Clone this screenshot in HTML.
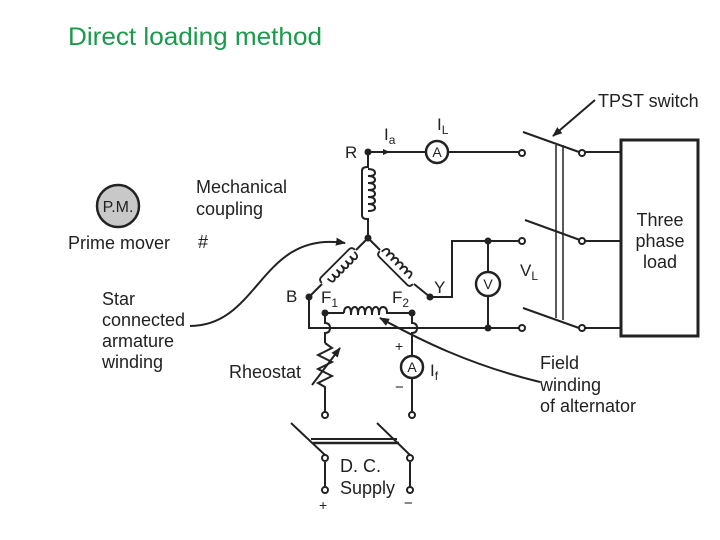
<!DOCTYPE html>
<html><head><meta charset="utf-8"><style>
html,body{margin:0;padding:0;background:#fff}
svg{display:block}
text{font-family:"Liberation Sans",sans-serif;fill:#222}
</style></head><body>
<svg width="720" height="540" viewBox="0 0 720 540" xmlns="http://www.w3.org/2000/svg">
<defs>
<g id="coilv"><path d="M0,-24 q7,0 7,4 q0,3 -7,3 q7,0 7,4 q0,3 -7,3 q7,0 7,4 q0,3 -7,3 q7,0 7,4 q0,3 -7,3 q7,0 7,4 q0,3 -7,3 q7,0 7,4 q0,3 -7,3 M-1,-26 q-5,0 -5,4 v44 q0,4 5,4" fill="none" stroke="#222" stroke-width="2"/></g>
<marker id="ah2" markerWidth="10" markerHeight="8" refX="9" refY="4" orient="auto" markerUnits="userSpaceOnUse"><path d="M0,0 L10,4 L0,8 z" fill="#222"/></marker>
</defs>
<text x="68" y="45" style="font-size:25px;fill:#1a9a4a" textLength="254" lengthAdjust="spacingAndGlyphs">Direct loading method</text>
<g stroke="#222" stroke-width="2" fill="none">
<line x1="368" y1="152" x2="426" y2="152"/>
<line x1="448" y1="152" x2="519" y2="152"/>
<line x1="368" y1="152" x2="368" y2="168"/>
<line x1="368" y1="218" x2="368" y2="238"/>
<line x1="368" y1="238" x2="356" y2="250"/>
<line x1="322" y1="284" x2="309" y2="297"/>
<line x1="368" y1="238" x2="380" y2="250"/>
<line x1="414" y1="284" x2="430" y2="297"/>
<polyline points="430,297 452,297 452,241 519,241"/>
<line x1="488" y1="241" x2="488" y2="272"/>
<line x1="488" y1="296" x2="488" y2="328"/>
<polyline points="309,297 309,328 519,328"/>
<polyline points="325,313 344,313"/>
<path d="M344,313 q0,-6 4,-6 M383,307 q4,0 4,6 L412,313"/>
<path d="M348,307 q3,0 3,8 q0,-8 4,-8 q3,0 3,8 q0,-8 4,-8 q3,0 3,8 q0,-8 4,-8 q3,0 3,8 q0,-8 4,-8 q3,0 3,8 q0,-8 4,-8"/>
<path d="M325,313 v10 q5,0 5,5 q0,5 -5,5 v10"/>
<path d="M325,343 l7,5 l-14,7 l14,7 l-14,7 l14,7 l-14,7 l7,4 v28"/>
<line x1="312" y1="385" x2="340" y2="348" marker-end="url(#ah2)"/>
<path d="M412,313 v10 q5,0 5,5 q0,5 -5,5 v23"/>
<line x1="412" y1="378" x2="412" y2="412"/>
<circle cx="412" cy="367" r="11" stroke-width="2.5"/>
<circle cx="437" cy="152" r="11" stroke-width="2.5"/>
<circle cx="488" cy="284" r="12" stroke-width="2.5"/>
<line x1="523" y1="132" x2="579" y2="152"/>
<line x1="525" y1="220" x2="580" y2="240"/>
<line x1="523" y1="308" x2="579" y2="328"/>
<line x1="556" y1="145" x2="556" y2="318" stroke-width="1.5"/>
<line x1="563" y1="145" x2="563" y2="320" stroke-width="1.5"/>
<line x1="585" y1="152" x2="620" y2="152"/>
<line x1="585" y1="241" x2="620" y2="241"/>
<line x1="585" y1="328" x2="620" y2="328"/>
<rect x="621" y="140" width="77" height="196" stroke-width="3"/>
<line x1="595" y1="100" x2="553" y2="136" marker-end="url(#ah2)"/>
<line x1="291" y1="423" x2="325" y2="455"/>
<line x1="377" y1="423" x2="410" y2="455"/>
<line x1="311" y1="439" x2="397" y2="439"/>
<line x1="313" y1="443" x2="399" y2="443" stroke-width="2.5"/>
<line x1="325" y1="462" x2="325" y2="487"/>
<line x1="410" y1="462" x2="410" y2="487"/>
<path d="M190,326 C260,326 260,230 345,243" marker-end="url(#ah2)"/>
<path d="M540,382 C470,365 420,340 380,318" marker-end="url(#ah2)"/>
</g>
<path d="M383,149 l7,3 l-7,3 z" fill="#222"/>
<use href="#coilv" transform="translate(368,193)"/>
<use href="#coilv" transform="translate(339,267) rotate(45) scale(0.9)"/>
<use href="#coilv" transform="translate(397,267) rotate(-45) scale(0.9)"/>
<g fill="#222">
<circle cx="368" cy="152" r="3.5"/><circle cx="368" cy="238" r="3.5"/>
<circle cx="309" cy="297" r="3.5"/><circle cx="430" cy="297" r="3.5"/>
<circle cx="325" cy="313" r="3.5"/><circle cx="412" cy="313" r="3.5"/>
<circle cx="488" cy="241" r="3.5"/><circle cx="488" cy="328" r="3.5"/>
</g>
<g fill="#fff" stroke="#222" stroke-width="2">
<circle cx="522" cy="153" r="3"/><circle cx="522" cy="241" r="3"/><circle cx="522" cy="328" r="3"/>
<circle cx="582" cy="153" r="3"/><circle cx="582" cy="241" r="3"/><circle cx="582" cy="328" r="3"/>
<circle cx="325" cy="415" r="3"/><circle cx="412" cy="415" r="3"/>
<circle cx="325" cy="458" r="3"/><circle cx="410" cy="458" r="3"/>
<circle cx="325" cy="490" r="3"/><circle cx="410" cy="490" r="3"/>
</g>
<circle cx="118" cy="206" r="21" fill="#c8c8c8" stroke="#222" stroke-width="2.5"/>
<g style="font-size:18px">
<text x="118" y="212" text-anchor="middle" style="font-size:16px">P.M.</text>
<text x="68" y="249">Prime mover</text>
<text x="196" y="193">Mechanical</text>
<text x="196" y="215">coupling</text>
<text x="198" y="248">#</text>
<text x="102" y="305">Star</text>
<text x="102" y="326">connected</text>
<text x="102" y="347">armature</text>
<text x="102" y="368">winding</text>
<text x="229" y="378">Rheostat</text>
<text x="540" y="369">Field</text>
<text x="540" y="391">winding</text>
<text x="540" y="412">of alternator</text>
<text x="598" y="107">TPST switch</text>
<text x="660" y="226" text-anchor="middle">Three</text>
<text x="660" y="247" text-anchor="middle">phase</text>
<text x="660" y="268" text-anchor="middle">load</text>
<text x="340" y="472">D. C.</text>
<text x="340" y="494">Supply</text>
<text x="345" y="158" style="font-size:17px">R</text>
<text x="286" y="302" style="font-size:17px">B</text>
<text x="434" y="293" style="font-size:17px">Y</text>
<text x="321" y="303" style="font-size:17px">F<tspan style="font-size:12px" dy="4">1</tspan></text>
<text x="392" y="303" style="font-size:17px">F<tspan style="font-size:12px" dy="4">2</tspan></text>
<text x="384" y="140" style="font-size:17px">I<tspan style="font-size:12px" dy="4">a</tspan></text>
<text x="437" y="130" style="font-size:17px">I<tspan style="font-size:12px" dy="4">L</tspan></text>
<text x="520" y="276" style="font-size:17px">V<tspan style="font-size:12px" dy="4">L</tspan></text>
<text x="430" y="376" style="font-size:17px">I<tspan style="font-size:12px" dy="4">f</tspan></text>
<text x="437" y="157" text-anchor="middle" style="font-size:14px">A</text>
<text x="488" y="289" text-anchor="middle" style="font-size:14px">V</text>
<text x="412" y="372" text-anchor="middle" style="font-size:14px">A</text>
<text x="395" y="351" style="font-size:14px">+</text>
<text x="395" y="392" style="font-size:15px">−</text>
<text x="319" y="510" style="font-size:14px">+</text>
<text x="404" y="508" style="font-size:15px">−</text>
</g>
</svg>
</body></html>
